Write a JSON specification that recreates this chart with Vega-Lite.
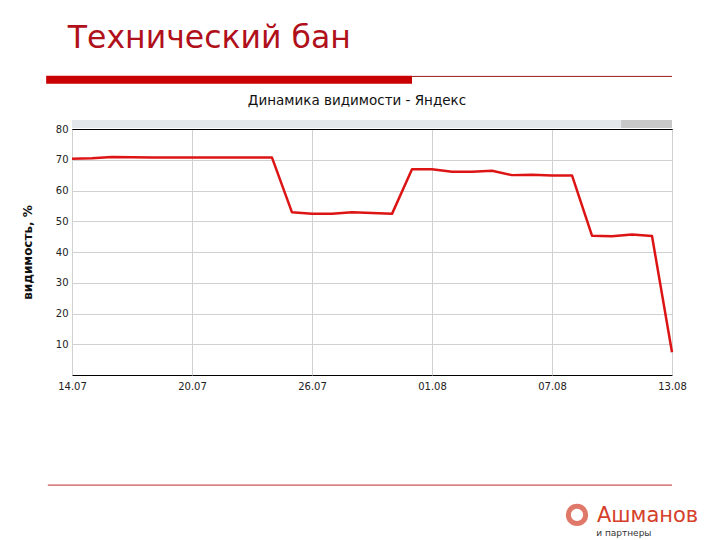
{
  "$schema": "https://vega.github.io/schema/vega-lite/v6.json",
  "autosize": "none",
  "width": 600,
  "height": 246,
  "padding": {"left": 72, "top": 129, "right": 48, "bottom": 165},
  "background": "white",
  "config": {
    "view": {"stroke": "black", "strokeWidth": 1},
    "font": "DejaVu Sans"
  },
  "data": {
    "values": [
      {"date": "2009-07-14T00:00:00", "v": 70.3},
      {"date": "2009-07-15T00:00:00", "v": 70.5},
      {"date": "2009-07-16T00:00:00", "v": 70.9},
      {"date": "2009-07-17T00:00:00", "v": 70.8},
      {"date": "2009-07-18T00:00:00", "v": 70.7},
      {"date": "2009-07-19T00:00:00", "v": 70.7},
      {"date": "2009-07-20T00:00:00", "v": 70.7},
      {"date": "2009-07-21T00:00:00", "v": 70.7},
      {"date": "2009-07-22T00:00:00", "v": 70.7},
      {"date": "2009-07-23T00:00:00", "v": 70.7},
      {"date": "2009-07-24T00:00:00", "v": 70.7},
      {"date": "2009-07-25T00:00:00", "v": 52.9},
      {"date": "2009-07-26T00:00:00", "v": 52.4},
      {"date": "2009-07-27T00:00:00", "v": 52.4},
      {"date": "2009-07-28T00:00:00", "v": 52.9},
      {"date": "2009-07-29T00:00:00", "v": 52.7},
      {"date": "2009-07-30T00:00:00", "v": 52.4},
      {"date": "2009-07-31T00:00:00", "v": 66.9},
      {"date": "2009-08-01T00:00:00", "v": 66.9},
      {"date": "2009-08-02T00:00:00", "v": 66.1},
      {"date": "2009-08-03T00:00:00", "v": 66.1},
      {"date": "2009-08-04T00:00:00", "v": 66.4},
      {"date": "2009-08-05T00:00:00", "v": 65.0},
      {"date": "2009-08-06T00:00:00", "v": 65.1},
      {"date": "2009-08-07T00:00:00", "v": 64.9},
      {"date": "2009-08-08T00:00:00", "v": 64.9},
      {"date": "2009-08-09T00:00:00", "v": 45.3},
      {"date": "2009-08-10T00:00:00", "v": 45.1},
      {"date": "2009-08-11T00:00:00", "v": 45.7},
      {"date": "2009-08-12T00:00:00", "v": 45.2},
      {"date": "2009-08-13T00:00:00", "v": 7.4}
    ]
  },
  "layer": [
    {
      "mark": {"type": "line", "color": "#dc1414", "strokeWidth": 2.5, "strokeJoin": "round"},
      "encoding": {
        "x": {
          "field": "date",
          "type": "temporal",
          "scale": {"domain": [{"year": 2009, "month": 7, "date": 14}, {"year": 2009, "month": 8, "date": 13}], "nice": false, "padding": 0},
          "axis": {
            "title": null,
            "format": "%d.%m",
            "values": [
              {"year": 2009, "month": 7, "date": 14},
              {"year": 2009, "month": 7, "date": 20},
              {"year": 2009, "month": 7, "date": 26},
              {"year": 2009, "month": 8, "date": 1},
              {"year": 2009, "month": 8, "date": 7},
              {"year": 2009, "month": 8, "date": 13}
            ],
            "tickCount": 20,
            "domain": false,
            "ticks": false,
            "grid": true,
            "gridColor": "#d0d0d0",
            "gridOpacity": 1,
            "labelFont": "DejaVu Sans",
            "labelFontSize": 10,
            "labelColor": "#222222",
            "labelPadding": 6,
            "labelFlush": false,
            "labelOverlap": false
          }
        },
        "y": {
          "field": "v",
          "type": "quantitative",
          "scale": {"domain": [0, 80], "nice": false},
          "axis": {
            "title": "видимость, %",
            "titleFont": "DejaVu Sans",
            "titleFontSize": 12,
            "titleFontWeight": "bold",
            "titleColor": "#111111",
            "titlePadding": 21,
            "values": [10, 20, 30, 40, 50, 60, 70, 80],
            "tickCount": 20,
            "labelOverlap": false,
            "labelBound": false,
            "domain": false,
            "ticks": false,
            "grid": true,
            "gridColor": {"condition": {"test": "datum.value >= 80", "value": "#000000"}, "value": "#d0d0d0"},
            "gridOpacity": 1,
            "labelFont": "DejaVu Sans",
            "labelFontSize": 10,
            "labelColor": "#222222",
            "labelPadding": 4
          }
        }
      }
    },
    {
      "data": {"values": [{}]},
      "mark": {"type": "rect", "color": "#e4e7ea"},
      "encoding": {
        "x": {"datum": {"year": 2009, "month": 7, "date": 14}, "type": "temporal"},
        "x2": {"datum": {"year": 2009, "month": 8, "date": 13}},
        "y": {"datum": 80.3, "type": "quantitative"},
        "y2": {"datum": 82.9}
      }
    },
    {
      "data": {"values": [{}]},
      "mark": {"type": "rect", "color": "#c8c8c8"},
      "encoding": {
        "x": {"datum": {"year": 2009, "month": 8, "date": 10, "hours": 11}, "type": "temporal"},
        "x2": {"datum": {"year": 2009, "month": 8, "date": 13}},
        "y": {"datum": 80.3, "type": "quantitative"},
        "y2": {"datum": 82.9}
      }
    },
    {
      "data": {"values": [{}]},
      "mark": {"type": "rect", "color": "#c80000"},
      "encoding": {
        "x": {"datum": {"year": 2009, "month": 7, "date": 12, "hours": 17}, "type": "temporal"},
        "x2": {"datum": {"year": 2009, "month": 7, "date": 31}},
        "y": {"datum": 94.7, "type": "quantitative"},
        "y2": {"datum": 97.3}
      }
    },
    {
      "data": {"values": [{}]},
      "mark": {"type": "rule", "color": "#9b1b1b", "strokeWidth": 1},
      "encoding": {
        "x": {"datum": {"year": 2009, "month": 7, "date": 31}, "type": "temporal"},
        "x2": {"datum": {"year": 2009, "month": 8, "date": 13}},
        "y": {"datum": 97.1, "type": "quantitative"}
      }
    },
    {
      "data": {"values": [{}]},
      "mark": {"type": "rule", "color": "#c0282a", "strokeWidth": 1},
      "encoding": {
        "x": {"datum": {"year": 2009, "month": 7, "date": 12, "hours": 19}, "type": "temporal"},
        "x2": {"datum": {"year": 2009, "month": 8, "date": 13}},
        "y": {"datum": -35.8, "type": "quantitative"}
      }
    },
    {
      "data": {"values": [{}]},
      "mark": {"type": "text", "text": "Технический бан", "font": "DejaVu Sans", "fontSize": 31.5, "color": "#b0101a", "align": "left", "baseline": "alphabetic"},
      "encoding": {
        "x": {"datum": {"year": 2009, "month": 7, "date": 13, "hours": 19}, "type": "temporal"},
        "y": {"datum": 106.2, "type": "quantitative"}
      }
    },
    {
      "data": {"values": [{}]},
      "mark": {"type": "text", "text": "Динамика видимости - Яндекс", "font": "DejaVu Sans", "fontSize": 13.5, "color": "#111111", "align": "center", "baseline": "middle"},
      "encoding": {
        "x": {"datum": {"year": 2009, "month": 7, "date": 28, "hours": 6}, "type": "temporal"},
        "y": {"datum": 89.1, "type": "quantitative"}
      }
    },
    {
      "data": {"values": [{}]},
      "mark": {"type": "point", "shape": "circle", "filled": false, "stroke": "#d4402a", "strokeWidth": 5, "size": 300},
      "encoding": {
        "x": {"datum": {"year": 2009, "month": 8, "date": 8, "hours": 6}, "type": "temporal"},
        "y": {"datum": -45.5, "type": "quantitative"}
      }
    },
    {
      "data": {"values": [{}]},
      "mark": {"type": "text", "text": "Ашманов", "font": "DejaVu Sans", "fontSize": 21, "color": "#d4402a", "align": "left", "baseline": "middle"},
      "encoding": {
        "x": {"datum": {"year": 2009, "month": 8, "date": 9, "hours": 6}, "type": "temporal"},
        "y": {"datum": -46.0, "type": "quantitative"}
      }
    },
    {
      "data": {"values": [{}]},
      "mark": {"type": "text", "text": "и партнеры", "font": "DejaVu Sans", "fontSize": 9, "color": "#333333", "align": "left", "baseline": "middle"},
      "encoding": {
        "x": {"datum": {"year": 2009, "month": 8, "date": 9, "hours": 5}, "type": "temporal"},
        "y": {"datum": -51.3, "type": "quantitative"}
      }
    }
  ]
}
